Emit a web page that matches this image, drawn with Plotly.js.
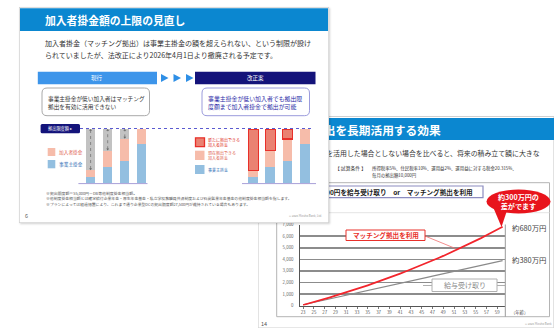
<!DOCTYPE html>
<html><head><meta charset="utf-8">
<script src="https://cdn.plot.ly/plotly-3.0.1.min.js"></script>
<style>
html,body{margin:0;padding:0;background:#fff;width:554px;height:328px;overflow:hidden;}
#right{position:absolute;left:258px;top:116px;width:296px;height:212px;}
#left{position:absolute;left:19px;top:7px;width:310px;height:216px;z-index:2;box-shadow:1px 1px 2px rgba(0,0,0,0.18);}
</style></head><body>
<div id="right"></div><div id="left"></div>
<script>
const FONT = '"Noto Sans CJK JP", "Noto Sans", sans-serif';

// ---- Slide 6 data (千円 / 月) ----
const barCases = ['事業主掛金 低', '事業主掛金 中低', '事業主掛金 中', '事業主掛金 高'];
const barPos = [0, 1, 2, 3];
const employerK = [6.5, 16.5, 22.5, 40];
const matchingK = [6.5, 16.5, 22.5, 15];
const unusedK = [42, 22, 10, 0];
const addedK = [42, 22, 10, 0];
const limitK = 55;

// ---- Slide 14 data (千円) ----
const ages = [23,24,25,26,27,28,29,30,31,32,33,34,35,36,37,38,39,40,41,42,43,44,45,46,47,48,49,50,51,52,53,54,55,56,57,58,59,60];
const matchingTotal = [60,180,310,440,580,720,860,1000,1150,1300,1450,1600,1760,1920,2080,2250,2420,2590,2770,2950,3130,3310,3500,3690,3890,4090,4290,4500,4710,4930,5150,5370,5600,5830,6070,6310,6550,6800];
const salaryTotal = [80,180,290,390,490,590,700,800,900,1000,1110,1210,1310,1420,1520,1620,1720,1830,1930,2030,2130,2240,2340,2440,2550,2650,2750,2850,2960,3060,3160,3260,3370,3470,3570,3680,3780,3880];
const ageTicks = [23,25,27,29,31,33,35,37,39,41,43,45,47,49,51,53,55,57,59];
const yTicks = [0,1000,2000,3000,4000,5000,6000,7000];
const yTickText = ['0','1,000','2,000','3,000','4,000','5,000','6,000','7,000'];

// ---- helpers (page pixel -> paper) ----
function frame(b){ return {X:x=>(x-b.x)/b.w, Y:y=>1-(y-b.y)/b.h}; }
function R(f,x0,y0,x1,y1,o){ return Object.assign({type:'rect',xref:'paper',yref:'paper',x0:f.X(x0),x1:f.X(x1),y0:f.Y(y1),y1:f.Y(y0),line:{width:0}},o); }
function RR(f,x0,y0,x1,y1,r,o){
  const p=`M${f.X(x0+r)},${f.Y(y0)} L${f.X(x1-r)},${f.Y(y0)} Q${f.X(x1)},${f.Y(y0)} ${f.X(x1)},${f.Y(y0+r)} L${f.X(x1)},${f.Y(y1-r)} Q${f.X(x1)},${f.Y(y1)} ${f.X(x1-r)},${f.Y(y1)} L${f.X(x0+r)},${f.Y(y1)} Q${f.X(x0)},${f.Y(y1)} ${f.X(x0)},${f.Y(y1-r)} L${f.X(x0)},${f.Y(y0+r)} Q${f.X(x0)},${f.Y(y0)} ${f.X(x0+r)},${f.Y(y0)} Z`;
  return Object.assign({type:'path',xref:'paper',yref:'paper',path:p},o);
}
function P(f,pts,o){ const p='M'+pts.map(q=>f.X(q[0])+','+f.Y(q[1])).join(' L')+' Z'; return Object.assign({type:'path',xref:'paper',yref:'paper',path:p,line:{width:0}},o); }
function Ln(f,x0,y0,x1,y1,o){ return Object.assign({type:'line',xref:'paper',yref:'paper',x0:f.X(x0),x1:f.X(x1),y0:f.Y(y0),y1:f.Y(y1)},o); }
function T(f,x,y,text,size,color,o){ return Object.assign({xref:'paper',yref:'paper',x:f.X(x),y:f.Y(y),text:text,showarrow:false,font:{size:size,color:color,family:FONT},xanchor:'left',yanchor:'middle',align:'left',borderpad:0},o); }

// ================= LEFT SLIDE =================
const LB = {x:19,y:7,w:310,h:216};
const fl = frame(LB);
const BLUE='#93bfe0', PINK='#f6bcaa', REDF='#ea8272', REDL='#e8302a', GRAY='#c2c2c2';

const arrowX=[], arrowY=[], arrowSym=[];
barPos.forEach((p,i)=>{ if(unusedK[i]>0){ arrowX.push(p,p,null); arrowY.push(employerK[i]+matchingK[i]+1.5, limitK-1.2, null); arrowSym.push('triangle-down','triangle-up','circle'); } });

const leftTraces = [
  {type:'bar',x:barPos,y:employerK,text:barCases,xaxis:'x',yaxis:'y',marker:{color:BLUE},width:0.53,textposition:'none',hoverinfo:'skip'},
  {type:'bar',x:barPos,y:matchingK,xaxis:'x',yaxis:'y',marker:{color:PINK},width:0.53,hoverinfo:'skip'},
  {type:'bar',x:barPos,y:unusedK.map(v=>v>0?v:null),xaxis:'x',yaxis:'y',marker:{color:GRAY},width:0.53,hoverinfo:'skip'},
  {type:'scatter',mode:'lines+markers',x:arrowX,y:arrowY,xaxis:'x',yaxis:'y',line:{color:'#6a6a6a',width:0.7,dash:'dot'},marker:{symbol:arrowSym,size:2.5,color:'#6a6a6a'},hoverinfo:'skip',connectgaps:false},
  {type:'bar',x:barPos,y:employerK,xaxis:'x2',yaxis:'y2',marker:{color:BLUE},width:0.58,hoverinfo:'skip'},
  {type:'bar',x:barPos,y:matchingK,xaxis:'x2',yaxis:'y2',marker:{color:PINK},width:0.58,hoverinfo:'skip'},
  {type:'bar',x:barPos,y:addedK.map(v=>v>0?v:null),xaxis:'x2',yaxis:'y2',marker:{color:REDF,line:{color:REDL,width:1.4}},width:0.58,hoverinfo:'skip'}
];
const hid = {visible:false,fixedrange:true};
const leftLayout = {
  width:LB.w,height:LB.h,margin:{l:0,r:0,t:0,b:0},paper_bgcolor:'#fff',plot_bgcolor:'rgba(0,0,0,0)',
  showlegend:false,barmode:'stack',font:{family:FONT},
  xaxis:Object.assign({domain:[0.2034,0.4240],range:[-0.5,3.5]},hid),
  yaxis:Object.assign({domain:[0.1838,0.4352],range:[0,limitK]},hid),
  xaxis2:Object.assign({domain:[0.7282,0.9489],range:[-0.5,3.5],anchor:'y2'},hid),
  yaxis2:Object.assign({domain:[0.1838,0.4352],range:[0,limitK],anchor:'x2'},hid),
  shapes:[
    R(fl,19,7,329,223,{line:{color:'#d2d2d2',width:1.5},fillcolor:'rgba(0,0,0,0)'}),
    R(fl,20,8.3,328,31,{fillcolor:'#0b87d0'}),
    R(fl,37.8,71.7,157,84.3,{fillcolor:'#3d95ea'}),
    R(fl,195,71.7,315.5,84.3,{fillcolor:'#14137a'}),
    P(fl,[[161,74],[168.5,78],[161,82]],{fillcolor:'#2e8fe6'}),
    P(fl,[[173.5,74],[181,78],[173.5,82]],{fillcolor:'#2e8fe6'}),
    P(fl,[[186,74],[193.5,78],[186,82]],{fillcolor:'#2e8fe6'}),
    RR(fl,42,88,149.5,115.7,5,{line:{color:'#a9a9a9',width:1},fillcolor:'#fff'}),
    RR(fl,202,88,309.5,115.7,5,{line:{color:'#9b9bdc',width:1},fillcolor:'#fff'}),
    RR(fl,40.6,124,80,133.3,1.5,{line:{width:0},fillcolor:'#13137a'}),
    Ln(fl,80,128.5,314,128.5,{line:{color:'#5a5ad0',width:1.2,dash:'dot'}}),
    Ln(fl,78.4,183.6,147.5,183.6,{line:{color:'#a89fd8',width:1}}),
    Ln(fl,242,183.6,316,183.6,{line:{color:'#a89fd8',width:1}}),
    R(fl,47.7,148,55.3,156,{fillcolor:PINK}),
    R(fl,47.7,160,55.3,168.3,{fillcolor:BLUE}),
    R(fl,195.5,137.8,204.5,146.6,{fillcolor:REDF,line:{color:REDL,width:1.3}}),
    R(fl,195,150.7,204.5,160,{fillcolor:PINK}),
    R(fl,195,165,204.5,174,{fillcolor:BLUE})
  ],
  annotations:[
    T(fl,44,19.6,'<b>加入者掛金額の上限の見直し</b>',10.8,'#fff'),
    T(fl,44,42.7,'加入者掛金（マッチング拠出）は事業主掛金の額を超えられない、という制限が設け',7,'#333'),
    T(fl,44,55.3,'られていましたが、法改正により2026年4月1日より撤廃される予定です。',7,'#333'),
    T(fl,97.4,78,'現行',5.5,'#fff',{xanchor:'center'}),
    T(fl,255.2,78,'改正案',5.5,'#fff',{xanchor:'center'}),
    T(fl,46.5,98.3,'事業主掛金が低い加入者はマッチング',5.7,'#333'),
    T(fl,46.5,106.2,'拠出を有効に活用できない',5.7,'#333'),
    T(fl,206.7,98.3,'事業主掛金が低い加入者でも拠出限',5.9,'#2c2ca8'),
    T(fl,206.7,106.2,'度額まで加入者掛金で拠出が可能',5.9,'#2c2ca8'),
    T(fl,60.3,128.7,'拠出限度額 ▸',4.2,'#fff',{xanchor:'center'}),
    T(fl,58.2,152.2,'加入者掛金',4.7,'#e0604f'),
    T(fl,58.2,164.2,'事業主掛金',4.7,'#2f6db5'),
    T(fl,206.5,139.8,'新たに拠出できる',4,'#e0352a'),
    T(fl,206.5,145.2,'加入者掛金',4,'#e0352a'),
    T(fl,206.5,153,'現在拠出できる',4,'#e0604f'),
    T(fl,206.5,158.4,'加入者掛金',4,'#e0604f'),
    T(fl,206.5,169.5,'事業主掛金',4,'#2f6db5'),
    T(fl,45,192.7,'※拠出限度額＝55,000円－DB等他制度掛金相当額。',3.9,'#555'),
    T(fl,45,198.5,'※他制度掛金相当額とは確定給付企業年金・厚生年金基金・私立学校教職員共済制度および石炭鉱業年金基金の他制度掛金相当額を指します。',3.85,'#555'),
    T(fl,45,204.2,'※プランによっては経過措置により、これまで通り企業型DCの拠出限度額27,500円が維持されている場合もあります。',3.85,'#555'),
    T(fl,23.5,215.5,'6',5.5,'#555'),
    T(fl,323,215.5,'© 2025 Mizuho Bank, Ltd.',2.8,'#999',{xanchor:'right'})
  ]
};

// ================= RIGHT SLIDE =================
const RB = {x:258,y:116,w:296,h:212};
const fr = frame(RB);
const rightTraces = [
  {type:'scatter',mode:'lines',x:ages,y:salaryTotal,name:'給与受け取り',line:{color:'#8a8a8a',width:1.2},hoverinfo:'skip'},
  {type:'scatter',mode:'lines',x:ages,y:matchingTotal,name:'マッチング拠出を利用',line:{color:'#f2252c',width:1.8},hoverinfo:'skip'}
];
const rightLayout = {
  width:RB.w,height:RB.h,margin:{l:0,r:0,t:0,b:0},paper_bgcolor:'#fff',plot_bgcolor:'#fff',
  showlegend:false,font:{family:FONT},
  xaxis:{domain:[(300.4-258)/296,(505.3-258)/296],range:[22.5,60.5],tickvals:ageTicks,ticks:'outside',ticklen:2,tickcolor:'#777',
         tickfont:{size:4.4,color:'#555'},showline:true,linecolor:'#555',linewidth:1,showgrid:false,zeroline:false,fixedrange:true},
  yaxis:{domain:[1-(305.7-116)/212,1-(224.5-116)/212],range:[0,7000],tickvals:yTicks,ticktext:yTickText,ticks:'',
         tickfont:{size:4.4,color:'#666'},ticklabelstandoff:5,showline:true,linecolor:'#555',linewidth:1,
         showgrid:true,gridcolor:'#8c8c8c',gridwidth:1.6,zeroline:false,fixedrange:true},
  shapes:[
    R(fr,258,116.5,554,328,{line:{color:'#d0d0d0',width:1.2},fillcolor:'rgba(0,0,0,0)',layer:'below'}),
    R(fr,258.5,118,554,140,{fillcolor:'#0b87d0',layer:'below'}),
    R(fr,276.7,182.7,549.5,316.7,{line:{color:'#b4b4b4',width:1},fillcolor:'#fff',layer:'below'}),
    Ln(fr,276.7,212.7,549.5,212.7,{line:{color:'#e4e4e4',width:1},layer:'below'}),
    R(fr,285,186,483,197.7,{line:{color:'#8c8cc0',width:1.2},fillcolor:'#fff',layer:'below'}),
    Ln(fr,505.3,224.5,505.3,316.7,{line:{color:'#9a9a9a',width:1}}),
    {type:'circle',xref:'paper',yref:'paper',x0:fr.X(486.5),x1:fr.X(550.5),y0:fr.Y(213.5),y1:fr.Y(189.5),fillcolor:'#e8141c',line:{width:0}},
    P(fr,[[493.5,208],[501.5,227],[507,210.5]],{fillcolor:'#e8141c'}),
    Ln(fr,425,236,455.5,248.5,{line:{color:'#f07070',width:0.8}}),
    R(fr,346,230,425,240.5,{fillcolor:'#fff',line:{color:'#e8302a',width:1}}),
    Ln(fr,423,285.5,432,285.5,{line:{color:'#9a9a9a',width:0.8}}),
    Ln(fr,497,285.5,505,285.5,{line:{color:'#9a9a9a',width:0.8}}),
    R(fr,432,279,497,291.5,{fillcolor:'#fff',line:{color:'#b0b0b0',width:1}})
  ],
  annotations:[
    T(fr,442,129.5,'<b>拠出を長期活用する効果</b>',11.7,'#fff',{xanchor:'right'}),
    T(fr,541,153,'マッチング拠出を活用した場合としない場合を比べると、将来の積み立て額に大きな',6.9,'#333',{xanchor:'right'}),
    T(fr,334,168.3,'【 試算条件 】',4.8,'#333'),
    T(fr,371,168.3,'所得税率5%、住民税率10%、運用益2%、運用益に対する税金20.315%、',4.4,'#333'),
    T(fr,371,175.3,'毎月の拠出額10,000円',4.4,'#333'),
    T(fr,474,192,'<b>毎月10,000円を給与受け取り　or　マッチング拠出を利用</b>',6.6,'#222',{xanchor:'right'}),
    T(fr,518.5,201.5,'<b>約300万円の<br>差がでます</b>',7.1,'#fff',{xanchor:'center',align:'center'}),
    T(fr,385.5,235.4,'<b>マッチング拠出を利用</b>',6.6,'#e8302a',{xanchor:'center'}),
    T(fr,464.5,285.3,'給与受け取り',7,'#8a8a8a',{xanchor:'center'}),
    T(fr,511,227,'約680万円',7.4,'#444'),
    T(fr,511,259.5,'約380万円',7.4,'#444'),
    T(fr,519,312.7,'（年齢）',4.3,'#555',{xanchor:'center'}),
    T(fr,260,324,'14',5.5,'#555'),
    T(fr,552.5,324,'© 2025 Mizuho Bank',2.8,'#999',{xanchor:'right'})
  ]
};

const cfg = {staticPlot:true,displayModeBar:false};
Plotly.newPlot('right', rightTraces, rightLayout, cfg);
Plotly.newPlot('left', leftTraces, leftLayout, cfg);
</script></body></html>
